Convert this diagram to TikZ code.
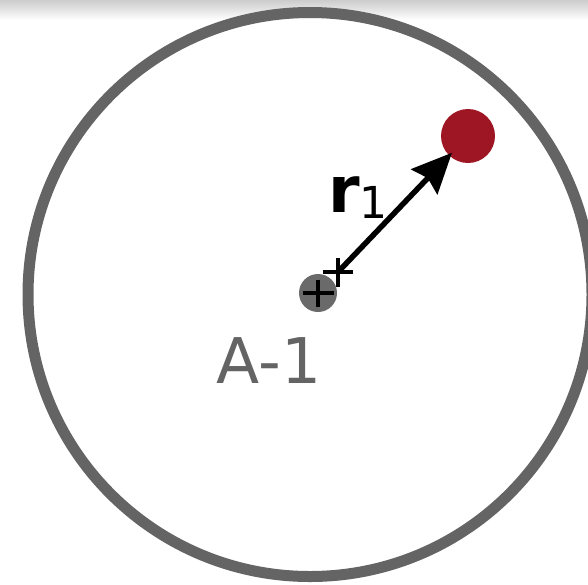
\documentclass[tikz,border=0pt]{standalone}
\usepackage{fontspec}
\setmainfont{DejaVu Sans}
\usetikzlibrary{arrows.meta}
\definecolor{ringgray}{HTML}{646464}
\definecolor{nucgray}{HTML}{6A6A6A}
\definecolor{ered}{HTML}{9E1624}
\tikzset{
  ring/.style={draw=ringgray, line width=11pt},
  nucleus/.style={circle, fill=nucgray, inner sep=0pt, minimum size=38pt},
  electron/.style={circle, fill=ered, inner sep=0pt, minimum size=54pt},
  plusmark/.style={line width=3.5pt, black},
  vec/.style={line width=5.5pt, -{Stealth[length=40pt,width=36pt,inset=5pt]}},
  lbl/.style={inner sep=0pt}
}
\begin{document}
\begin{tikzpicture}[x=1pt,y=-1pt]
\clip (0,0) rectangle (588,584);
\fill[white] (0,0) rectangle (588,584);
\shade[top color=gray!40, bottom color=white] (0,0) rectangle (588,20);
\draw[ring] (310,294.5) circle (282);
\node[nucleus] (nuc) at (318,293) {};
\draw[plusmark] ([xshift=-15.5pt]nuc.center) -- ([xshift=15.5pt]nuc.center);
\draw[plusmark] ([yshift=13.5pt]nuc.center) -- ([yshift=-13.5pt]nuc.center);
\coordinate (tail) at (338,272);
\node[electron] (e) at (468,136) {};
\draw[vec, shorten >=-4pt] (tail) -- (e);
\draw[plusmark] ([xshift=-15pt]tail) -- ([xshift=15pt]tail);
\draw[plusmark] ([yshift=14.5pt]tail) -- ([yshift=-14.5pt]tail);
\node[lbl, anchor=base west, text=black] (r) at (328,212) {\fontsize{64}{64}\selectfont\bfseries r\raisebox{-6pt}{\fontsize{44}{44}\selectfont\mdseries 1}};
\node[lbl, anchor=base, text=ringgray] (a1) at (269,383) {\fontsize{63}{63}\selectfont A-1};
\end{tikzpicture}
\end{document}
